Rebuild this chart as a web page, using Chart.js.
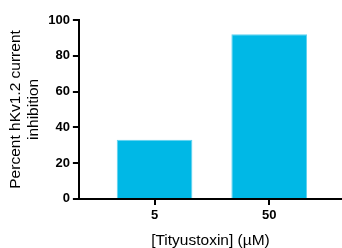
<!DOCTYPE html>
<html>
<head>
<meta charset="utf-8">
<script src="https://cdn.jsdelivr.net/npm/chart.js@4"></script>
<style>
    html, body { margin: 0; padding: 0; background: #ffffff; }
    #wrap { width: 342px; height: 248px; }
</style>
</head>
<body>
<div id="wrap"><canvas id="inhibition"></canvas></div>
<script>
// данные с графика
const doses = ['5', '50'];
const inhibition = [33, 92];
const yTicks = [0, 20, 40, 60, 80, 100];

const fontFamily = "'Liberation Sans', Arial, sans-serif";

renderChart();

function renderChart() {
    const ctx = document.getElementById('inhibition').getContext('2d');

    const points = inhibition.map((v, i) => ({ x: i + 1, y: v }));

    new Chart(ctx, {
        type: 'bar',
        data: {
            datasets: [{
                data: points,
                backgroundColor: '#00b8e6',
                borderColor: '#5fd2ef',
                borderWidth: 1,
                barPercentage: 0.825,
                categoryPercentage: 0.8
            }]
        },
        options: {
            responsive: true,
            maintainAspectRatio: false,
            animation: false,
            layout: {
                padding: { top: 20, right: 0, left: 6, bottom: 0 }
            },
            plugins: {
                legend: { display: false },
                tooltip: { enabled: false }
            },
            scales: {
                x: {
                    type: 'linear',
                    offset: false,
                    min: 0.34,
                    max: 2.635,
                    afterBuildTicks: function(axis) {
                        axis.ticks = doses.map((d, i) => ({ value: i + 1 }));
                    },
                    border: { display: true, color: '#000000', width: 2 },
                    grid: {
                        offset: false,
                        drawOnChartArea: false,
                        drawTicks: true,
                        tickLength: 6,
                        color: '#000000',
                        lineWidth: 2
                    },
                    ticks: {
                        color: '#000000',
                        padding: 3,
                        maxRotation: 0,
                        font: { family: fontFamily, size: 13, weight: 'bold' },
                        callback: function(value) {
                            return doses[value - 1];
                        }
                    },
                    title: {
                        display: true,
                        text: '[Tityustoxin] (µM)',
                        color: '#000000',
                        padding: { top: 6, bottom: 0 },
                        font: { family: fontFamily, size: 15.5, lineHeight: 1 }
                    }
                },
                y: {
                    min: 0,
                    max: 100,
                    afterBuildTicks: function(axis) {
                        axis.ticks = yTicks.map(v => ({ value: v }));
                    },
                    border: { display: true, color: '#000000', width: 2 },
                    grid: {
                        drawOnChartArea: false,
                        drawTicks: true,
                        tickLength: 6,
                        color: '#000000',
                        lineWidth: 2
                    },
                    ticks: {
                        color: '#000000',
                        padding: 3,
                        font: { family: fontFamily, size: 13, weight: 'bold' }
                    },
                    title: {
                        display: true,
                        text: ['Percent hKv1.2 current', 'inhibition'],
                        color: '#000000',
                        padding: { top: 0, bottom: 2 },
                        font: { family: fontFamily, size: 15.5, lineHeight: 1.2 }
                    }
                }
            }
        }
    });
}
</script>
</body>
</html>
